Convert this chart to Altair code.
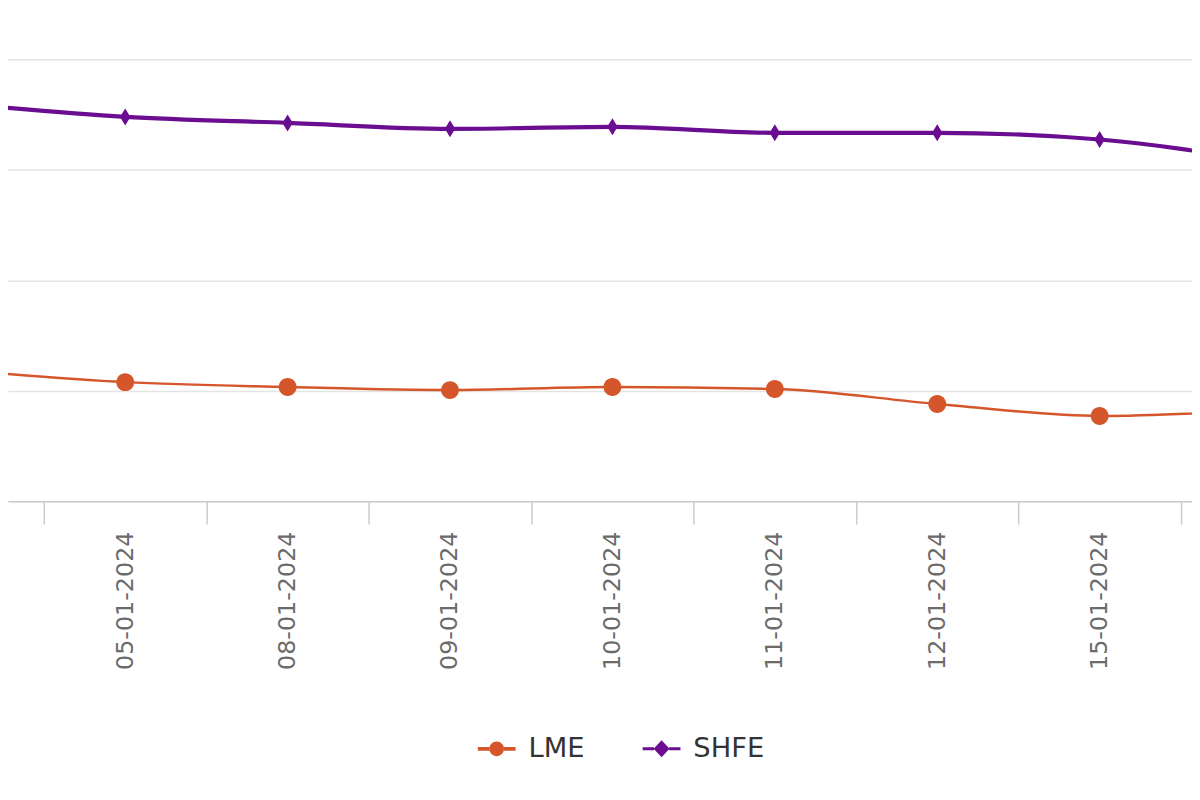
import altair as alt
import pandas as pd

# trading days (first and last are only partly visible at the edges)
dates = ["04-01-2024", "05-01-2024", "08-01-2024", "09-01-2024", "10-01-2024",
         "11-01-2024", "12-01-2024", "15-01-2024", "16-01-2024"]
lme = [8593, 8539, 8517, 8503, 8517, 8508, 8440, 8386, 8413]
shfe = [9798, 9739, 9712, 9685, 9694, 9667, 9667, 9637, 9537]
series = ["LME", "SHFE"]
colors = ["#d6562b", "#6a0d91"]
line_widths = [2.5, 4.2]
y_ticks = [8000, 8500, 9000, 9500, 10000]

rows = []
for k, d in enumerate(dates):
    rows.append({"idx": k, "date": d, "series": "LME", "price": lme[k]})
    rows.append({"idx": k, "date": d, "series": "SHFE", "price": shfe[k]})
df = pd.DataFrame(rows)

W, H = 1192, 445
band = 163.5
lo = 1 - 118 / band
x_scale = alt.Scale(domain=[lo, lo + W / band], nice=False, zero=False)
y_scale = alt.Scale(domain=[y_ticks[0], y_ticks[-1]], nice=False, zero=False)

# ticks sit between days, labels are shifted half a band to the day itself
dates_js = "[" + ",".join("'%s'" % d for d in dates) + "]"
x_axis = alt.Axis(
    values=[k + 0.5 for k in range(len(dates) - 1)],
    labelExpr="round(datum.value + 0.5) < %d ? %s[round(datum.value + 0.5)] : ''" % (len(dates) - 1, dates_js),
    labelOffset=band / 2, labelAngle=-90, labelFlush=False,
    labelFont="DejaVu Sans", labelFontSize=24, labelColor="#6b6b6b",
    labelPadding=7, tickSize=23, tickColor="#cccccc", tickWidth=1.5,
    domainColor="#cccccc", domainWidth=1.5, grid=False, title=None,
)
y_axis = alt.Axis(values=y_ticks, labels=False, ticks=False, domain=False,
                  grid=True, gridColor="#e4e4e4", gridWidth=1.5, title=None)

# marker shapes on the lines
marker_paths = ["M-1,0A1,1 0 1,0 1,0A1,1 0 1,0 -1,0Z",
                "M0,-0.95L0.58,0L0,0.95L-0.58,0Z"]
# legend symbols: short line with the marker in the middle
legend_paths = [
    "M-1,-0.1L-0.38,-0.1L-0.38,0.1L-1,0.1Z"
    "M0.38,-0.1L1,-0.1L1,0.1L0.38,0.1Z"
    "M-0.39,0A0.39,0.39 0 1,0 0.39,0A0.39,0.39 0 1,0 -0.39,0Z",
    "M-1,-0.08L-0.4,-0.08L-0.4,0.08L-1,0.08Z"
    "M0.4,-0.08L1,-0.08L1,0.08L0.4,0.08Z"
    "M0,-0.45L0.42,0L0,0.45L-0.42,0Z",
]

base = alt.Chart(df).encode(
    x=alt.X("idx:Q", scale=x_scale, axis=x_axis),
    y=alt.Y("price:Q", scale=y_scale, axis=y_axis),
)

layers = []
for s, c, w, p in zip(series, colors, line_widths, marker_paths):
    one = base.transform_filter(alt.datum.series == s)
    layers.append(one.mark_line(interpolate="monotone", clip=True, color=c, strokeWidth=w))
    layers.append(one.mark_point(filled=True, opacity=1, size=324, clip=True, shape=p, color=c))

# layer that only carries the legend: its points sit on the first,
# off-view day and are clipped away
leg_props = dict(
    title=None, orient="none", direction="horizontal",
    legendX=473, legendY=675, symbolSize=1444, symbolStrokeWidth=0,
    labelFont="DejaVu Sans", labelFontSize=27.5, labelColor="#333333",
    labelOffset=13, columnPadding=58,
)
legend_layer = (
    base.transform_filter(alt.datum.idx == 0)
    .mark_point(filled=True, opacity=1, clip=True)
    .encode(
        color=alt.Color("series:N", scale=alt.Scale(domain=series, range=colors),
                        legend=alt.Legend(**leg_props)),
        shape=alt.Shape("series:N", scale=alt.Scale(domain=series, range=legend_paths),
                        legend=alt.Legend(**leg_props)),
    )
)

chart = (
    alt.layer(*layers, legend_layer)
    .properties(width=W, height=H,
                autosize=alt.AutoSizeParams(type="none"),
                padding={"left": 0, "top": 49, "right": 0, "bottom": 270})
    .configure_view(stroke=None)
)

chart.save("out.html", embed_options={"renderer": "svg", "actions": False})
